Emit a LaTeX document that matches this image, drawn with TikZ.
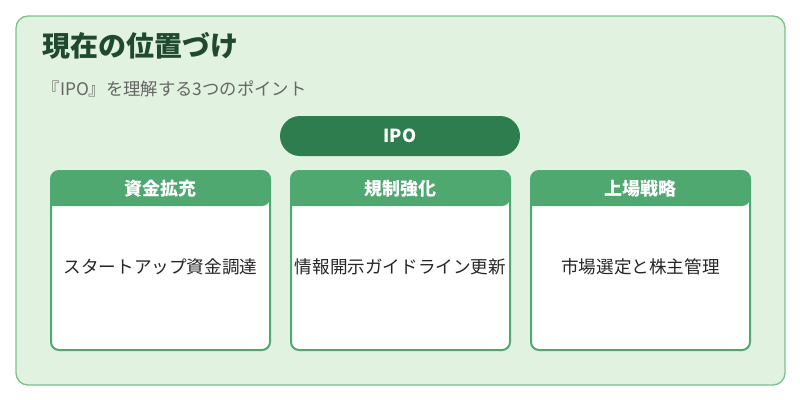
\documentclass[tikz,border=0pt]{standalone}
\usepackage{fontspec}
\setmainfont{Noto Sans CJK JP}
\usetikzlibrary{positioning}
\definecolor{bgmint}{HTML}{E1F2E0}
\definecolor{edgegreen}{HTML}{7DC08E}
\definecolor{pillgreen}{HTML}{2E7D4F}
\definecolor{headgreen}{HTML}{4EA870}
\definecolor{titlegreen}{HTML}{1F4A30}
\begin{document}
\begin{tikzpicture}[x=0.75pt, y=-0.75pt,
  cardbox/.style={draw=headgreen, line width=1.5pt, fill=white, rounded corners=6pt},
  headtext/.style={text=white, font=\bfseries\fontsize{13.5}{15}\selectfont},
  bodytext/.style={text=black!85, font=\fontsize{13.2}{15}\selectfont}]
  \useasboundingbox (0,0) rectangle (800,400);
  \draw[draw=edgegreen, fill=bgmint, line width=1pt, rounded corners=9pt] (16,16) rectangle (785,385);
  \node[anchor=west, text=titlegreen, font=\bfseries\fontsize{21}{24}\selectfont] (title) at (38,46) {現在の位置づけ};
  \node[anchor=west, text=black!60, font=\fontsize{13}{15}\selectfont] (subtitle) at (38,89) {『IPO』を理解する3つのポイント};
  \node[fill=pillgreen, rounded corners=15pt, minimum width=180pt, minimum height=30pt,
    text=white, font=\bfseries\fontsize{13.5}{15}\selectfont] (ipo) at (400,136) {IPO};
  % three cards
  \foreach \x/\head/\body/\name in {51/資金拡充/スタートアップ資金調達/a, 291/規制強化/情報開示ガイドライン更新/b, 531/上場戦略/市場選定と株主管理/c}{
    \draw[cardbox] (\x,171) rectangle (\x+219,350);
    \fill[headgreen, rounded corners=6pt] (\x,206) -- (\x,171) -- (\x+219,171) -- (\x+219,206) [sharp corners] -- cycle;
    \node[headtext] (head\name) at (\x+109.5,188.5) {\head};
    \node[bodytext] (body\name) at (\x+109.5,267) {\body};
  }
\end{tikzpicture}
\end{document}
